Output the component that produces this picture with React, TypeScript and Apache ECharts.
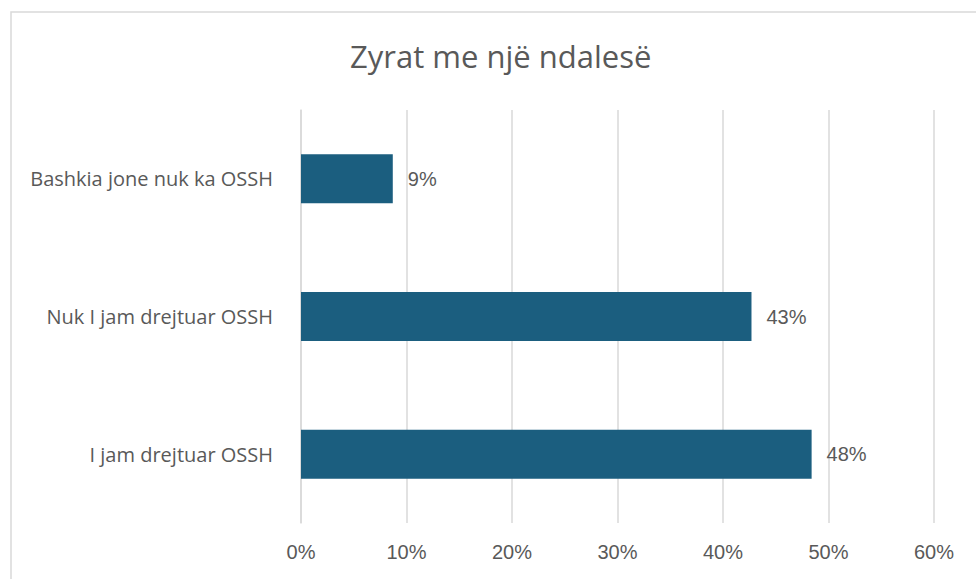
import React, { useEffect, useRef } from "react";
import * as echarts from "echarts";

const categories = ["I jam drejtuar OSSH", "Nuk I jam drejtuar OSSH", "Bashkia jone nuk ka OSSH"];
const values = [48.4, 42.7, 8.7];
const xTicks = [0, 10, 20, 30, 40, 50, 60];
const titleText = "Zyrat me një ndalesë";

export default function App() {
  const ref = useRef<HTMLDivElement>(null);
  useEffect(() => {
    if (!ref.current) return;
    const chart = echarts.init(ref.current, null, { renderer: "svg" });
    chart.setOption({
      animation: false,
      backgroundColor: "#ffffff",
      title: {
        text: titleText,
        left: 345,
        top: 35,
        textStyle: { fontFamily: "Open Sans", fontSize: 31, fontWeight: "normal", color: "#595959" },
      },
      graphic: [
        {
          type: "rect",
          shape: { x: 11, y: 12, width: 980, height: 580 },
          style: { fill: "none", stroke: "#d9d9d9", lineWidth: 1.5 },
          silent: true,
        },
      ],
      grid: { left: 301, right: 42, top: 110, bottom: 56 },
      xAxis: {
        type: "value",
        min: 0,
        max: xTicks[xTicks.length - 1],
        interval: 10,
        axisLine: { show: false },
        axisTick: { show: false },
        splitLine: { show: true, lineStyle: { color: "#d9d9d9", width: 1.5 } },
        axisLabel: {
          formatter: (v: number) => `${v}%`,
          fontFamily: "Liberation Sans",
          fontSize: 20,
          color: "#595959",
          margin: 19,
        },
      },
      yAxis: {
        type: "category",
        data: categories,
        axisLine: { show: true, lineStyle: { color: "#d9d9d9", width: 1.5 } },
        axisTick: { show: false },
        axisLabel: {
          fontFamily: "Open Sans",
          fontSize: 20,
          color: "#595959",
          margin: 28,
        },
      },
      series: [
        {
          type: "bar",
          data: values,
          barWidth: 49,
          itemStyle: { color: "#1b5e7f" },
          label: {
            show: true,
            position: "right",
            distance: 15,
            formatter: (p: any) => `${Math.round(p.value)}%`,
            fontFamily: "Liberation Sans",
            fontSize: 20,
            color: "#595959",
          },
        },
      ],
    });
    return () => chart.dispose();
  }, []);
  return <div ref={ref} style={{ width: 976, height: 579, position: "absolute", left: 0, top: 0 }} />;
}
